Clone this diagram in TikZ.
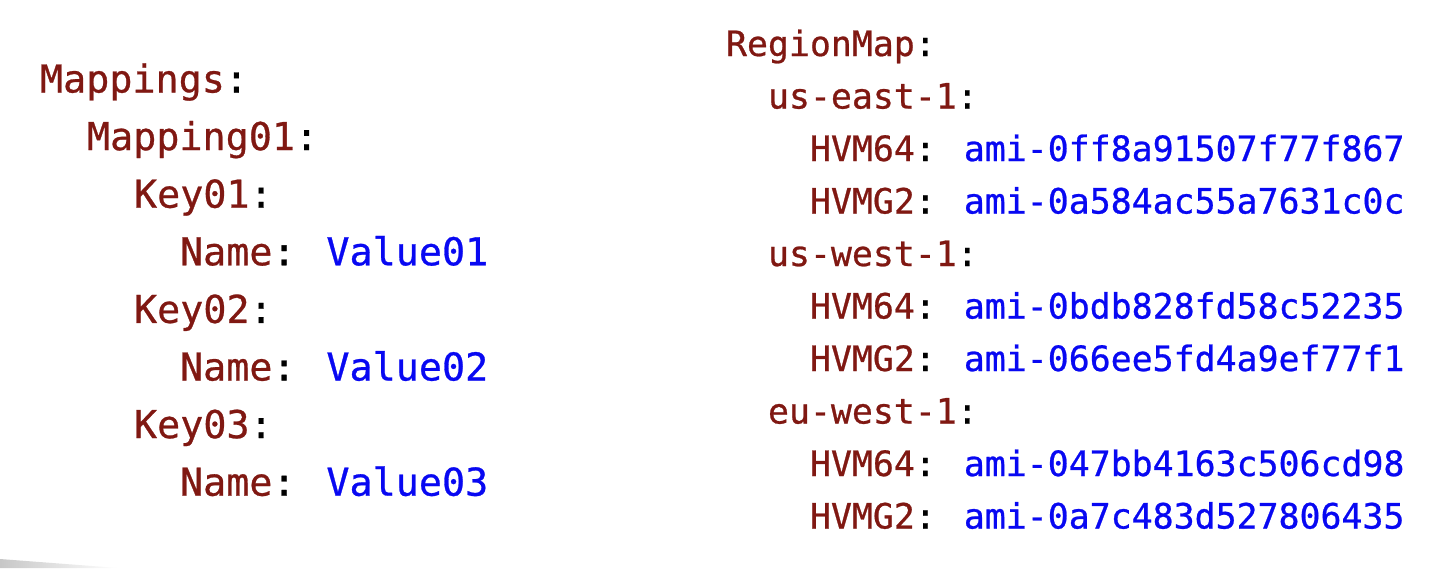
\documentclass[tikz,border=0pt]{standalone}
\usepackage{fontspec}
\newfontfamily\codefont[FakeBold=0.7]{DejaVu Sans Mono}
\definecolor{keyred}{RGB}{128,24,18}
\definecolor{valblue}{RGB}{8,8,242}
\begin{document}
\begin{tikzpicture}[x=1pt,y=-1pt,
  line/.style={anchor=base west,inner sep=0pt,outer sep=0pt},
  leftcode/.style={line,font=\codefont\fontsize{38.4}{38.4}\selectfont},
  rightcode/.style={line,font=\codefont\fontsize{34.85}{34.85}\selectfont}]
\useasboundingbox (0,0) rectangle (1454,568);
\fill[white] (0,0) rectangle (1454,568);
\shade[left color=black!22,right color=white] (0,559) -- (118,568) -- (0,568) -- cycle;
\newcommand{\kk}[1]{\textcolor{keyred}{#1}\textcolor{black}{:}}
\newcommand{\vv}[1]{\textcolor{valblue}{#1}}
% left block
\node[leftcode] (m)   at (40,92.5)  {\kk{Mappings}};
\node[leftcode] (m1)  at (87,150.1) {\kk{Mapping01}};
\node[leftcode] (k1)  at (134,207.7){\kk{Key01}};
\node[leftcode] (n1)  at (180,265.3){\kk{Name} \vv{Value01}};
\node[leftcode] (k2)  at (134,322.9){\kk{Key02}};
\node[leftcode] (n2)  at (180,380.5){\kk{Name} \vv{Value02}};
\node[leftcode] (k3)  at (134,438.1){\kk{Key03}};
\node[leftcode] (n3)  at (180,495.7){\kk{Name} \vv{Value03}};
% right block
\node[rightcode] (rm) at (726,56)    {\kk{RegionMap}};
\node[rightcode] (ue) at (768,108.5) {\kk{us-east-1}};
\node[rightcode] (ue1) at (810,161)  {\kk{HVM64} \vv{ami-0ff8a91507f77f867}};
\node[rightcode] (ue2) at (810,213.5){\kk{HVMG2} \vv{ami-0a584ac55a7631c0c}};
\node[rightcode] (uw) at (768,266)   {\kk{us-west-1}};
\node[rightcode] (uw1) at (810,318.5){\kk{HVM64} \vv{ami-0bdb828fd58c52235}};
\node[rightcode] (uw2) at (810,371)  {\kk{HVMG2} \vv{ami-066ee5fd4a9ef77f1}};
\node[rightcode] (ew) at (768,423.5) {\kk{eu-west-1}};
\node[rightcode] (ew1) at (810,476)  {\kk{HVM64} \vv{ami-047bb4163c506cd98}};
\node[rightcode] (ew2) at (810,528.5){\kk{HVMG2} \vv{ami-0a7c483d527806435}};
\end{tikzpicture}
\end{document}
